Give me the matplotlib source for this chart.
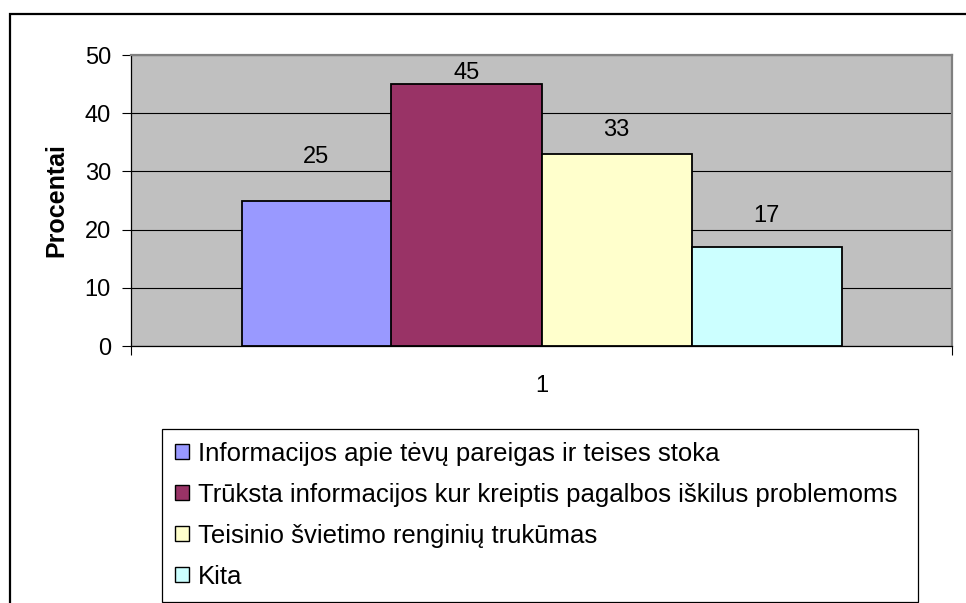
import matplotlib
matplotlib.use("Agg")
import matplotlib.pyplot as plt
from matplotlib.patches import Rectangle, Patch
import numpy as np

plt.rcParams['font.family'] = ['Liberation Sans', 'DejaVu Sans']

categories = ["Informacijos apie tėvų pareigas ir teises stoka",
              "Trūksta informacijos kur kreiptis pagalbos iškilus problemoms",
              "Teisinio švietimo renginių trukūmas",
              "Kita"]
values = [25, 45, 33, 17]
group_labels = ["1"]
y_ticks = [0, 10, 20, 30, 40, 50]
y_label = "Procentai"

colors = ["#9999FF", "#993366", "#FFFFCC", "#CCFFFF"]
label_offsets_pt = [31.5, 8.0, 17.5, 22.5]

NUM_FS = 17
LEG_FS = 18.5

W, H = 966, 603
fig = plt.figure(figsize=(W / 100, H / 100), dpi=100)
fig.patch.set_facecolor("white")

# outer chart frame (right/bottom out of view)
fig.patches.append(Rectangle((10 / W, -0.2), 2.0, 1 - 14 / H + 0.2,
                             transform=fig.transFigure, fill=False,
                             edgecolor="black", linewidth=1.6))

ax = fig.add_axes([131 / W, 1 - 346 / H, (952 - 131) / W, (346 - 55) / H])
ax.set_facecolor("#C0C0C0")
ax.set_xlim(0.5, 1.5)
ax.set_ylim(0, 50)

width = 150 / 821
n = len(values)
for i, (v, c) in enumerate(zip(values, colors)):
    xc = 1 + (i - (n - 1) / 2) * width
    ax.bar(xc, v, width=width, color=c, edgecolor="black", linewidth=1.3,
           zorder=3, label=categories[i])
    ax.annotate(str(v), xy=(xc, v), xytext=(0, label_offsets_pt[i]),
                textcoords="offset points", ha="center", va="center",
                fontsize=NUM_FS, zorder=4)

ax.set_yticks(y_ticks)
ax.yaxis.grid(True, color="black", linewidth=0.8, zorder=1)
ax.set_axisbelow(True)
ax.tick_params(axis="y", direction="out", length=6.5, width=0.8, pad=8,
               labelsize=NUM_FS, colors="black")
ax.set_xticks([1])
ax.set_xticklabels(group_labels)
ax.set_xticks([0.5, 1.5], minor=True)
ax.tick_params(axis="x", which="major", length=0, pad=21, labelsize=NUM_FS)
ax.tick_params(axis="x", which="minor", length=6.5, width=0.8, direction="out")
ax.set_ylabel(y_label, fontsize=18, fontweight="bold", labelpad=12)

for s in ["top", "right"]:
    ax.spines[s].set_color("#808080")
    ax.spines[s].set_linewidth(1.6)
for s in ["left", "bottom"]:
    ax.spines[s].set_color("black")
    ax.spines[s].set_linewidth(0.9)

handles = [Patch(facecolor=c, edgecolor="black", linewidth=1.0) for c in colors]
leg = fig.legend(handles, categories,
                 bbox_to_anchor=(162 / W, 1 - 601 / H, (918 - 162) / W, (601 - 429) / H),
                 loc="upper left", mode="expand", ncol=1, fontsize=LEG_FS,
                 frameon=True, fancybox=False, shadow=False,
                 edgecolor="black", framealpha=1,
                 handlelength=0.55, handleheight=0.55, handletextpad=0.35,
                 labelspacing=0.66, borderpad=0.5, borderaxespad=0)
leg.get_frame().set_linewidth(0.9)

fig.savefig("out.png", dpi=100)
